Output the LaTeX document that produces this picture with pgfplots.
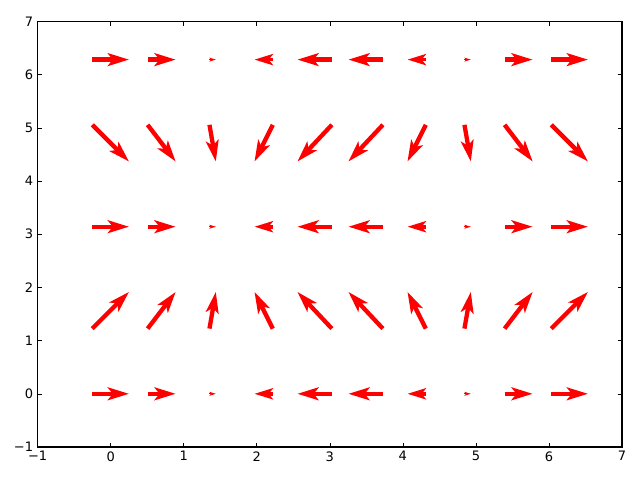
\documentclass[border=0pt]{standalone}
\usepackage{fontspec}
\setmainfont{DejaVu Sans}
\usepackage{pgfplots}
\pgfplotsset{compat=1.18}
\usetikzlibrary{arrows.meta}
\begin{document}
\begin{tikzpicture}
\begin{axis}[
  scale only axis,
  width=584.4bp, height=425.5bp,
  xmin=-1, xmax=7, ymin=-1, ymax=7,
  xtick={-1,0,1,2,3,4,5,6,7},
  ytick={-1,0,1,2,3,4,5,6,7},
  xticklabels={−1,0,1,2,3,4,5,6,7},
  yticklabels={−1,0,1,2,3,4,5,6,7},
  tick align=inside,
  major tick length=4.4bp,
  tick style={black, line width=0.6bp},
  axis line style={black, line width=1.1bp},
  tick label style={font=\fontsize{13bp}{15bp}\selectfont},
  xticklabel style={yshift=-1bp},
  yticklabel style={xshift=-1bp},
  point meta min=0, point meta max=1,
]
\addplot[
  red, mark=none,
  point meta=\thisrow{s},
  quiver={u=0.502*\thisrow{u}, v=0.69*\thisrow{v},
    every arrow/.append style={
      line width=4.3bp*\pgfplotspointmetatransformed/1000,
      -{Stealth[length=0pt 4.9, width=0pt 2.95, inset=0pt 1.15]}}},
] table[x expr=\thisrow{x}-0.251*\thisrow{u}, y expr=\thisrow{y}-0.345*\thisrow{v}] {
x y u v s
0.0000 0.0000 1.0000 0 1
0.6981 0.0000 0.7660 0 1
1.3963 0.0000 0.1736 0 0.303
2.0944 0.0000 -0.5000 0 0.874
2.7925 0.0000 -0.9397 0 1
3.4907 0.0000 -0.9397 0 1
4.1888 0.0000 -0.5000 0 0.874
4.8869 0.0000 0.1736 0 0.303
5.5851 0.0000 0.7660 0 1
6.2832 0.0000 1.0000 0 1
0.0000 1.5708 1.0000 1 1
0.6981 1.5708 0.7660 1 1
1.3963 1.5708 0.1736 1 1
2.0944 1.5708 -0.5000 1 1
2.7925 1.5708 -0.9397 1 1
3.4907 1.5708 -0.9397 1 1
4.1888 1.5708 -0.5000 1 1
4.8869 1.5708 0.1736 1 1
5.5851 1.5708 0.7660 1 1
6.2832 1.5708 1.0000 1 1
0.0000 3.1416 1.0000 0 1
0.6981 3.1416 0.7660 0 1
1.3963 3.1416 0.1736 0 0.303
2.0944 3.1416 -0.5000 0 0.874
2.7925 3.1416 -0.9397 0 1
3.4907 3.1416 -0.9397 0 1
4.1888 3.1416 -0.5000 0 0.874
4.8869 3.1416 0.1736 0 0.303
5.5851 3.1416 0.7660 0 1
6.2832 3.1416 1.0000 0 1
0.0000 4.7124 1.0000 -1 1
0.6981 4.7124 0.7660 -1 1
1.3963 4.7124 0.1736 -1 1
2.0944 4.7124 -0.5000 -1 1
2.7925 4.7124 -0.9397 -1 1
3.4907 4.7124 -0.9397 -1 1
4.1888 4.7124 -0.5000 -1 1
4.8869 4.7124 0.1736 -1 1
5.5851 4.7124 0.7660 -1 1
6.2832 4.7124 1.0000 -1 1
0.0000 6.2832 1.0000 0 1
0.6981 6.2832 0.7660 0 1
1.3963 6.2832 0.1736 0 0.303
2.0944 6.2832 -0.5000 0 0.874
2.7925 6.2832 -0.9397 0 1
3.4907 6.2832 -0.9397 0 1
4.1888 6.2832 -0.5000 0 0.874
4.8869 6.2832 0.1736 0 0.303
5.5851 6.2832 0.7660 0 1
6.2832 6.2832 1.0000 0 1
};
\end{axis}
\path ([shift={(-37.6bp,-33bp)}]current axis.south west) rectangle ([shift={(18bp,21.5bp)}]current axis.north east);
\end{tikzpicture}
\end{document}
